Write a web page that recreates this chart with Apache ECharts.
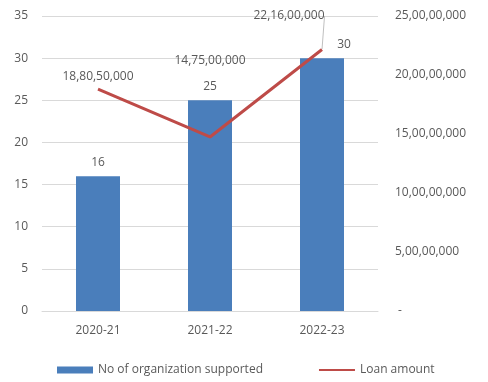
<!DOCTYPE html>
<html><head><meta charset="utf-8">
<script src="https://cdn.jsdelivr.net/npm/echarts@6/dist/echarts.min.js"></script>
<style>html,body{margin:0;padding:0;background:#fff}#c{width:488px;height:382px}</style>
</head><body><div id="c"></div>
<script>
const categories = ['2020-21', '2021-22', '2022-23'];
const orgSupported = [16, 25, 30];
const loanAmount = [188050000, 147500000, 221600000];
const leftTicks = [0, 5, 10, 15, 20, 25, 30, 35];
const rightTicks = [0, 50000000, 100000000, 150000000, 200000000, 250000000];

function indianFormat(n) {
  const s = String(Math.round(n));
  if (s.length <= 3) return s;
  const last3 = s.slice(-3);
  let rest = s.slice(0, -3);
  const parts = [];
  while (rest.length > 2) { parts.unshift(rest.slice(-2)); rest = rest.slice(0, -2); }
  if (rest.length) parts.unshift(rest);
  return parts.join(',') + ',' + last3;
}

const FONT = 'Open Sans';
const TXT = '#595959';
const chart = echarts.init(document.getElementById('c'), null, {renderer: 'canvas'});
const lineShifts = [[0, -2], [0, -66], [-33, -23]];
const showLeader = [false, false, true];
const barOffsets = [[0, 0], [0, 0], [22, 0]];
chart.setOption({
  animation: false,
  textStyle: {fontFamily: FONT},
  grid: {left: 42, right: 110, top: 16, bottom: 71, containLabel: false},
  legend: {
    bottom: 1, left: 52, itemGap: 55, itemWidth: 36, itemHeight: 7, itemTextGap: 4,
    textStyle: {color: TXT, fontSize: 12, fontFamily: FONT},
    data: [{name: 'No of organization supported', icon: 'rect'},
           {name: 'Loan amount', itemStyle: {opacity: 0}}]
  },
  xAxis: {
    type: 'category', data: categories,
    axisLine: {show: true, lineStyle: {color: '#d9d9d9'}},
    axisTick: {show: false},
    axisLabel: {color: TXT, fontSize: 12, margin: 14, fontFamily: FONT}
  },
  yAxis: [{
    type: 'value', min: leftTicks[0], max: leftTicks[leftTicks.length - 1], interval: 5,
    axisLine: {show: false}, axisTick: {show: false},
    splitLine: {lineStyle: {color: '#d9d9d9'}},
    axisLabel: {color: TXT, fontSize: 12, margin: 14, fontFamily: FONT}
  }, {
    type: 'value', min: rightTicks[0], max: rightTicks[rightTicks.length - 1], interval: 50000000,
    position: 'right',
    axisLine: {show: false}, axisTick: {show: false}, splitLine: {show: false},
    axisLabel: {color: TXT, fontSize: 12, margin: 17, align: 'left', fontFamily: FONT,
      formatter: v => v === 0 ? ' -' : indianFormat(v)}
  }],
  series: [{
    name: 'No of organization supported', type: 'bar', data: orgSupported.map((v, i) => ({
      value: v, label: {offset: barOffsets[i]}
    })),
    barWidth: 44, itemStyle: {color: '#4a7ebb'},
    label: {show: true, position: 'top', distance: 8, color: TXT, fontSize: 12, fontFamily: FONT}
  }, {
    name: 'Loan amount', type: 'line', yAxisIndex: 1,
    data: loanAmount.map((v, i) => ({value: v, labelLine: {show: showLeader[i]}})),
    symbol: 'circle', symbolSize: 1, showSymbol: true,
    lineStyle: {color: '#be4b48', width: 3}, itemStyle: {color: 'rgba(0,0,0,0)'},
    label: {show: true, position: 'top', distance: 4, color: TXT, fontSize: 12, fontFamily: FONT,
      formatter: p => indianFormat(p.value)},
    labelLine: {show: true, lineStyle: {color: '#bfbfbf', width: 1}},
    labelLayout: p => ({dx: lineShifts[p.dataIndex][0], dy: lineShifts[p.dataIndex][1]})
  }]
});
</script></body></html>
